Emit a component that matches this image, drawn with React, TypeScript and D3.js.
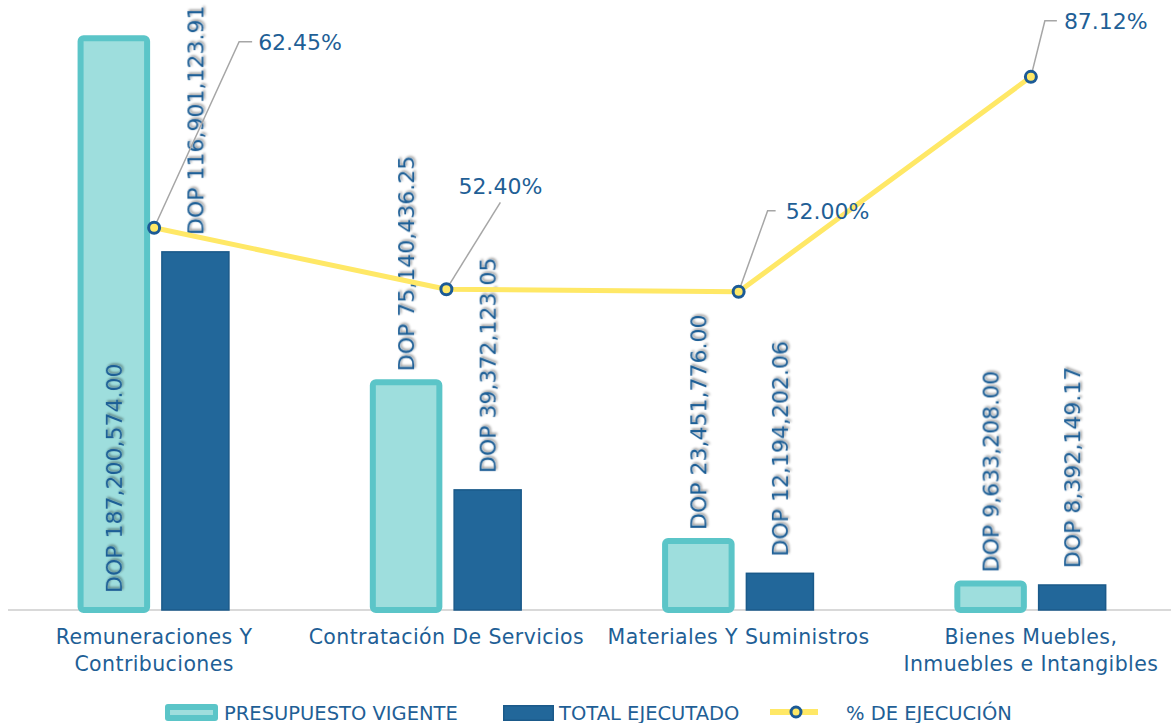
import React from "react";
import * as d3 from "d3";

const categories = [
  "Remuneraciones Y Contribuciones",
  "Contratación De Servicios",
  "Materiales Y Suministros",
  "Bienes Muebles, Inmuebles e Intangibles",
];
const tickLabels = [
  ["Remuneraciones Y", "Contribuciones"],
  ["Contratación De Servicios"],
  ["Materiales Y Suministros"],
  ["Bienes Muebles,", "Inmuebles e Intangibles"],
];
const presupuesto = [187200574.0, 75140436.25, 23451776.0, 9633208.0];
const ejecutado = [116901123.91, 39372123.05, 12194202.06, 8392149.17];
const porcentaje = [62.45, 52.4, 52.0, 87.12];
const seriesNames = ["PRESUPUESTO VIGENTE", "TOTAL EJECUTADO", "% DE EJECUCIÓN"];

// layout for percent labels (offsets relative to point)
const pctLayout = [
  { ex: 85, ey: -186, hx: 13, tx: 6, center: false },
  { ex: 54, ey: -87, hx: 0, tx: 0, center: true },
  { ex: 29, ey: -81, hx: 8, tx: 10, center: false },
  { ex: 14, ey: -56, hx: 12, tx: 7, center: false },
];

const W = 1171;
const H = 723;
const BASE = 610;
const FONT = "'DejaVu Sans', sans-serif";
const TEXT = "#1F5F96";
const TEAL = "#5BC5C8";
const TEAL_L = "#9EDEDD";
const BLUE = "#22679A";
const YEL = "#FFE866";

export default function App() {
  const x0 = d3
    .scaleBand<string>()
    .domain(categories)
    .range([8, 1177])
    .paddingInner(0.483)
    .paddingOuter(0.2415);
  const x1 = d3
    .scaleBand<string>()
    .domain(["p", "e"])
    .range([0, x0.bandwidth()])
    .paddingInner(0.17);
  const y = d3.scaleLinear().domain([0, 200e6]).range([BASE, -4]);
  const y2 = d3.scaleLinear().domain([0, 100]).range([BASE, -2]);
  const fmt = d3.format(",.2f");
  const cx = (c: string) => (x0(c) as number) + x0.bandwidth() / 2;

  const linePts: [number, number][] = categories.map((c, i) => [cx(c), y2(porcentaje[i])]);
  const line = d3.line()(linePts) as string;

  const barLabel = (bx: number, top: number, v: number, gap: number, key: string) => {
    const textLen = 236;
    const inside = top - gap - textLen < -20;
    const sy = inside ? BASE - 17 : top - gap;
    return (
      <text
        key={key}
        transform={`translate(${bx},${sy}) rotate(-90)`}
        dominantBaseline="central"
        textAnchor="start"
        fontFamily={FONT}
        fontSize={22}
        fill={TEXT}
        filter="url(#shadow)"
      >
        {"DOP " + fmt(v)}
      </text>
    );
  };

  return (
    <svg
      width={W}
      height={H}
      style={{ position: "absolute", left: 0, top: 0, background: "#fff" }}
    >
      <defs>
        <filter id="shadow" x="-20%" y="-20%" width="140%" height="140%">
          <feDropShadow dx="1.5" dy="1.5" stdDeviation="1.3" floodColor="#000" floodOpacity="0.45" />
        </filter>
      </defs>
      <rect width={W} height={H} fill="#fff" />
      {/* baseline */}
      <line x1={8} x2={1171} y1={BASE} y2={BASE} stroke="#D9D9D9" strokeWidth={2} />

      {/* bars */}
      {categories.map((c, i) => {
        const gx = x0(c) as number;
        const px = gx + (x1("p") as number);
        const ex = gx + (x1("e") as number);
        const bw = x1.bandwidth();
        const pt = y(presupuesto[i]);
        const et = y(ejecutado[i]);
        return (
          <g key={c}>
            <rect
              x={px + 2}
              y={pt + 3}
              width={bw - 2}
              height={BASE - pt - 3}
              fill={TEAL_L}
              stroke={TEAL}
              strokeWidth={6}
              rx={3}
            />
            <rect
              x={ex + 0.75}
              y={et + 0.75}
              width={bw - 1.5}
              height={BASE - et - 0.75}
              fill={BLUE}
              stroke="#1B5A8A"
              strokeWidth={1.5}
            />
          </g>
        );
      })}

      {/* bar labels */}
      {categories.map((c, i) => {
        const gx = x0(c) as number;
        const bw = x1.bandwidth();
        const px = gx + (x1("p") as number) + bw / 2 + 1;
        const ex = gx + (x1("e") as number) + bw / 2;
        return (
          <g key={"l" + c}>
            {barLabel(px, y(presupuesto[i]), presupuesto[i], 8, "p")}
            {barLabel(ex, y(ejecutado[i]), ejecutado[i], 16, "e")}
          </g>
        );
      })}

      {/* line */}
      <path d={line} fill="none" stroke={YEL} strokeWidth={5} strokeLinejoin="round" />

      {/* leaders and pct labels */}
      {linePts.map(([px, py], i) => {
        const L = pctLayout[i];
        const elx = px + L.ex;
        const ely = py + L.ey;
        const hx = elx + L.hx;
        const path = `M${px},${py}L${elx},${ely}L${hx},${ely}`;
        return (
          <g key={"pl" + i}>
            <path d={path} fill="none" stroke="#A6A6A6" strokeWidth={1.5} />
            {L.center ? (
              <text
                x={elx}
                y={ely - 16}
                textAnchor="middle"
                dominantBaseline="central"
                fontFamily={FONT}
                fontSize={22}
                fill={TEXT}
              >
                {d3.format(".2f")(porcentaje[i]) + "%"}
              </text>
            ) : (
              <text
                x={hx + L.tx}
                y={ely + 1}
                textAnchor="start"
                dominantBaseline="central"
                fontFamily={FONT}
                fontSize={22}
                fill={TEXT}
              >
                {d3.format(".2f")(porcentaje[i]) + "%"}
              </text>
            )}
          </g>
        );
      })}

      {/* markers */}
      {linePts.map(([px, py], i) => (
        <circle key={"m" + i} cx={px} cy={py} r={5.5} fill={YEL} stroke="#1B5A96" strokeWidth={3} />
      ))}

      {/* category labels */}
      {categories.map((c, i) => (
        <text
          key={"t" + c}
          x={cx(c)}
          textAnchor="middle"
          fontFamily={FONT}
          fontSize={20.5}
          letterSpacing={0.4}
          fill={TEXT}
        >
          {tickLabels[i].map((ln, j) => (
            <tspan key={j} x={cx(c)} y={637 + j * 27} dominantBaseline="central">
              {ln}
            </tspan>
          ))}
        </text>
      ))}

      {/* legend */}
      <g fontFamily={FONT} fontSize={19.5} fill={TEXT}>
        <rect x={165} y={704} width={53} height={17} rx={3} fill={TEAL} />
        <rect x={170} y={710} width={43} height={5} fill={TEAL_L} />
        <text x={224} y={713} dominantBaseline="central">
          {seriesNames[0]}
        </text>
        <rect x={503.75} y={705.75} width={49.5} height={14.5} fill={BLUE} stroke="#1B5A8A" strokeWidth={1.5} />
        <text x={559} y={713} dominantBaseline="central">
          {seriesNames[1]}
        </text>
        <line x1={770} x2={818} y1={712} y2={712} stroke={YEL} strokeWidth={6} />
        <circle cx={796} cy={712} r={5} fill={YEL} stroke="#1B5A96" strokeWidth={3} />
        <text x={846} y={713} dominantBaseline="central">
          {seriesNames[2]}
        </text>
      </g>
    </svg>
  );
}
